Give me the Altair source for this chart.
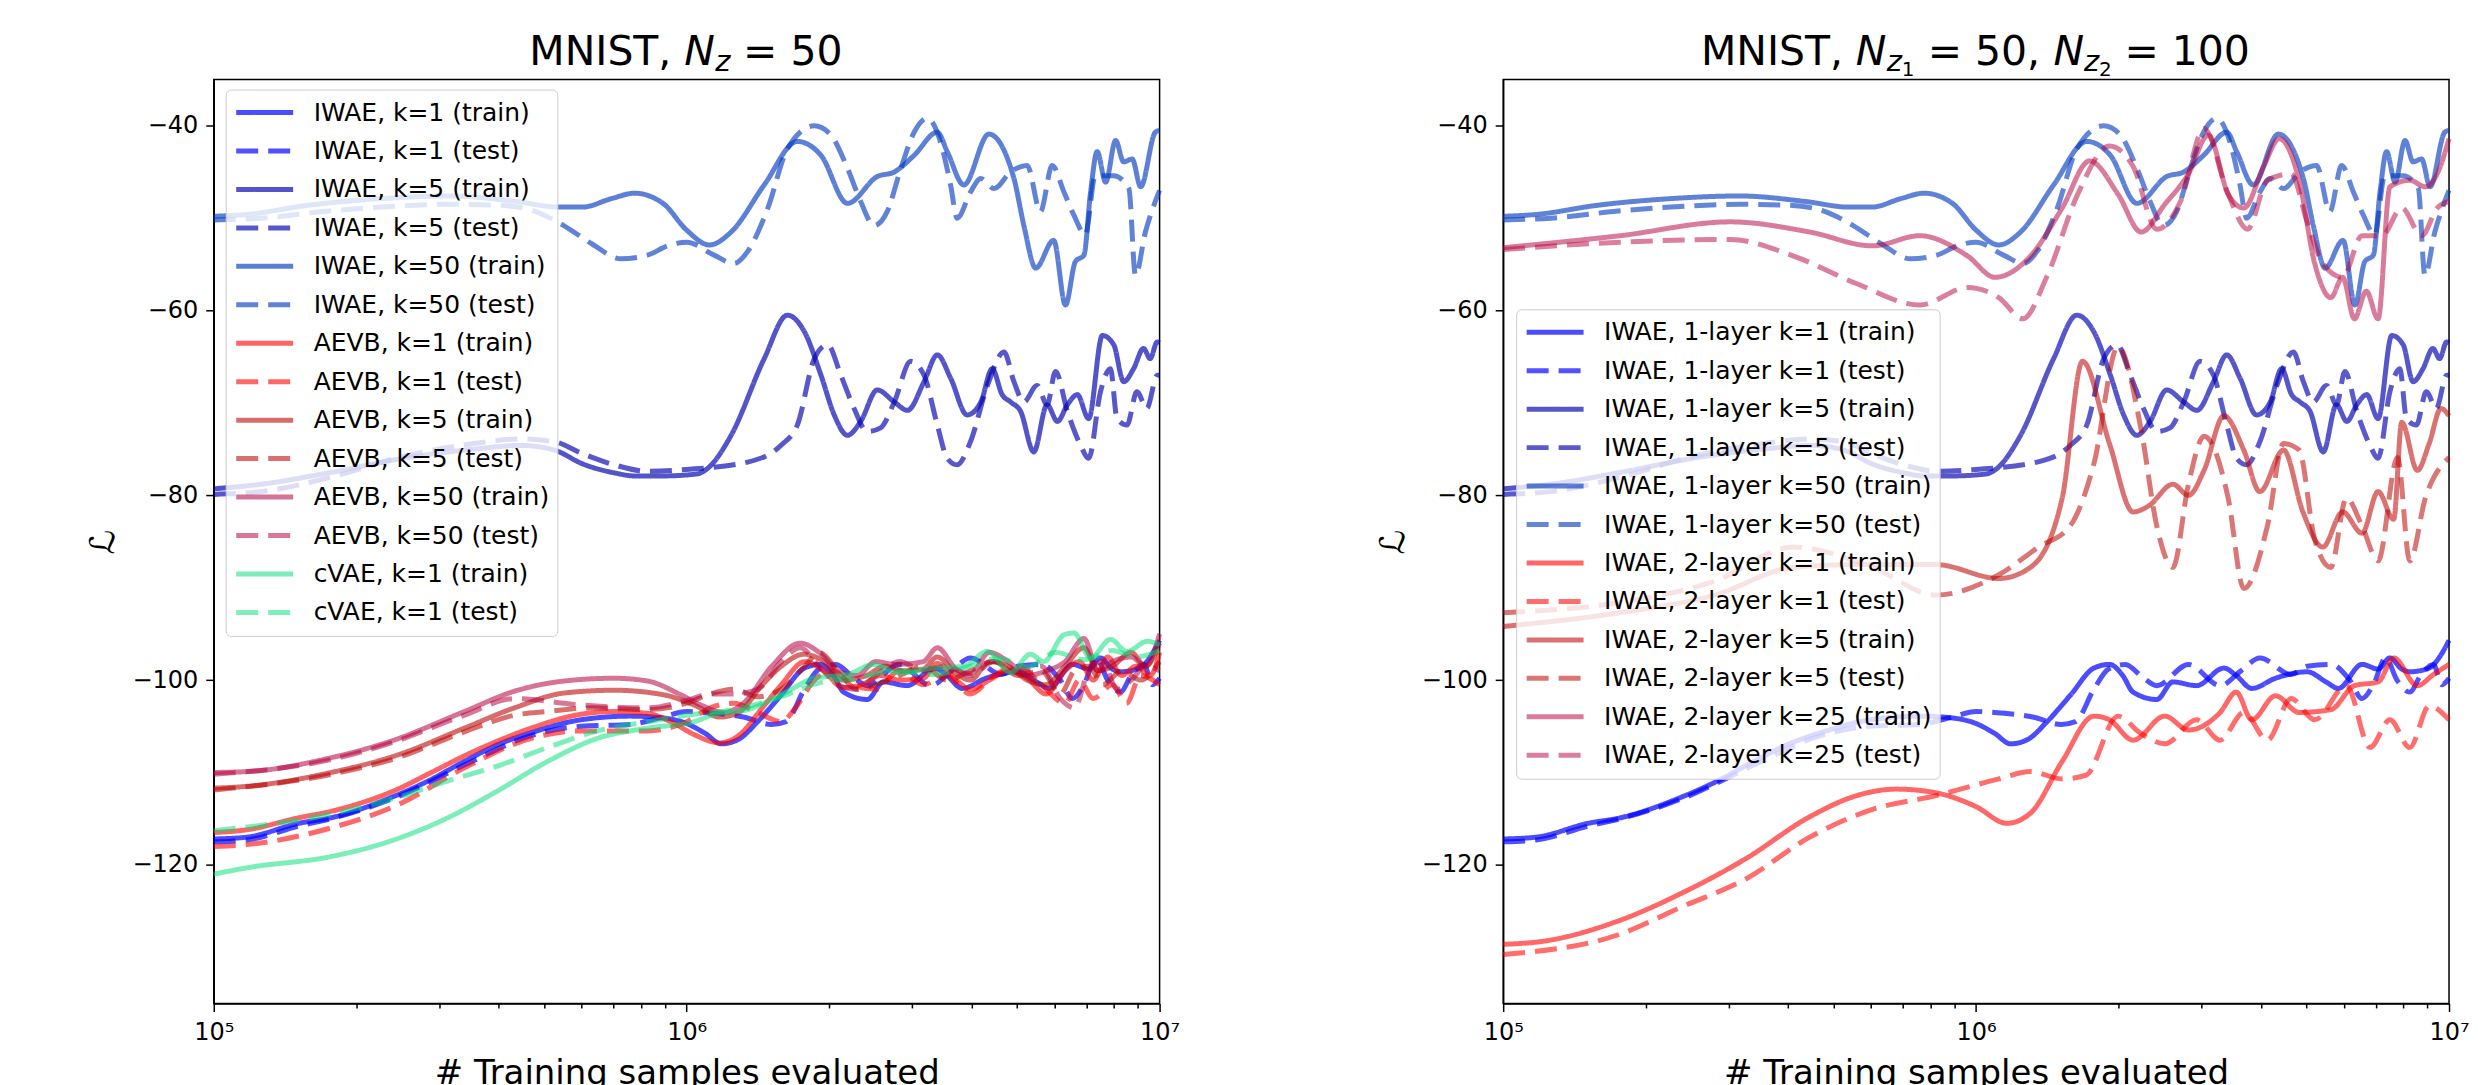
import altair as alt
import pandas as pd

FONT = "DejaVu Sans"

X_TICKS = [1e5, 2e5, 3e5, 4e5, 5e5, 6e5, 7e5, 8e5, 9e5,
           1e6, 2e6, 3e6, 4e6, 5e6, 6e6, 7e6, 8e6, 9e6, 1e7]
Y_TICKS = [-120, -100, -80, -60, -40]

# (log10 of training samples, ELBO value)
IWAE_K1_TRAIN = [(5.00, -117.2), (5.07, -117.0), (5.18, -115.5), (5.248, -114.9), (5.38, -112.6), (5.45, -111.0),
                 (5.53, -108.8), (5.60, -107.0), (5.671, -105.7), (5.776, -104.3), (5.88, -103.9), (5.95, -104.1),
                 (6.00, -104.7), (6.04, -105.8), (6.073, -106.9), (6.11, -106.4), (6.15, -104.5), (6.20, -101.6),
                 (6.249, -98.7), (6.282, -98.3), (6.31, -99.5), (6.332, -101.3), (6.382, -102.1), (6.416, -100.2),
                 (6.466, -100.6), (6.524, -98.7), (6.55, -99.5), (6.583, -100.9), (6.633, -99.8), (6.70, -99.1),
                 (6.74, -100.2), (6.766, -100.9), (6.816, -98.3), (6.85, -98.8), (6.875, -97.6), (6.90, -98.8),
                 (6.917, -99.1), (6.958, -98.7), (6.98, -97.5), (7.0, -95.7)]
IWAE_K1_TEST = [(5.00, -117.5), (5.07, -117.3), (5.18, -115.8), (5.248, -115.0), (5.38, -112.8), (5.53, -109.2),
                (5.671, -106.0), (5.776, -105.0), (5.88, -104.8), (5.95, -104.0), (6.00, -103.4), (6.06, -103.6),
                (6.12, -104.0), (6.18, -104.8), (6.21, -104.5), (6.249, -101.0), (6.28, -98.8), (6.316, -98.3),
                (6.35, -99.6), (6.382, -100.6), (6.449, -98.3), (6.516, -100.6), (6.56, -99.0), (6.60, -97.6),
                (6.666, -99.4), (6.70, -98.5), (6.75, -98.3), (6.79, -100.0), (6.816, -102.0), (6.84, -100.5),
                (6.866, -97.6), (6.89, -100.0), (6.917, -101.3), (6.94, -99.5), (6.967, -98.3), (6.985, -100.5),
                (7.0, -99.8)]
IWAE_K5_TRAIN = [(5.00, -79.3), (5.10, -78.8), (5.25, -77.5), (5.40, -76.0), (5.55, -75.0), (5.65, -74.6),
                 (5.72, -75.1), (5.78, -76.6), (5.85, -77.6), (5.889, -77.9), (5.95, -77.9), (6.02, -77.7),
                 (6.044, -77.1), (6.094, -73.5), (6.164, -65.2), (6.213, -60.5), (6.249, -62.3), (6.284, -67.0),
                 (6.312, -71.3), (6.34, -73.5), (6.368, -72.0), (6.403, -68.6), (6.439, -69.9), (6.467, -70.8),
                 (6.502, -67.7), (6.53, -64.8), (6.558, -67.3), (6.593, -71.3), (6.622, -69.9), (6.646, -66.3),
                 (6.667, -69.1), (6.685, -69.9), (6.706, -70.9), (6.734, -75.3), (6.762, -70.2), (6.784, -72.0),
                 (6.805, -70.2), (6.826, -69.1), (6.85, -71.7), (6.879, -62.7), (6.903, -63.7), (6.924, -67.7),
                 (6.945, -66.3), (6.966, -64.1), (6.98, -65.2), (6.995, -63.4), (7.0, -63.5)]
IWAE_K5_TEST = [(5.00, -79.9), (5.10, -79.6), (5.25, -78.0), (5.40, -75.8), (5.55, -74.4), (5.65, -73.9),
                (5.72, -74.2), (5.78, -75.5), (5.847, -76.7), (5.917, -77.4), (6.00, -77.2), (6.129, -76.4),
                (6.199, -74.6), (6.234, -72.4), (6.27, -65.2), (6.298, -63.7), (6.326, -67.0), (6.354, -70.6),
                (6.382, -73.1), (6.41, -72.7), (6.439, -69.9), (6.474, -65.5), (6.502, -67.0), (6.53, -72.4),
                (6.551, -76.0), (6.572, -76.7), (6.60, -74.2), (6.636, -68.1), (6.671, -64.5), (6.692, -67.7),
                (6.713, -69.9), (6.741, -68.1), (6.762, -70.2), (6.78, -66.6), (6.805, -70.9), (6.833, -74.6),
                (6.85, -76.0), (6.875, -68.8), (6.896, -66.3), (6.91, -71.7), (6.931, -72.4), (6.952, -68.8),
                (6.973, -70.6), (6.995, -67.0), (7.0, -67.0)]
IWAE_K50_TRAIN = [(5.00, -49.8), (5.07, -49.6), (5.20, -48.6), (5.35, -47.9), (5.50, -47.6), (5.64, -48.2),
                  (5.73, -48.8), (5.78, -48.8), (5.84, -47.9), (5.89, -47.3), (5.95, -48.4), (6.00, -51.3),
                  (6.048, -52.9), (6.094, -51.5), (6.164, -46.4), (6.234, -41.7), (6.284, -43.2), (6.34, -48.4),
                  (6.403, -45.5), (6.439, -45.0), (6.481, -43.2), (6.53, -40.7), (6.551, -42.8), (6.586, -46.4),
                  (6.639, -40.9), (6.692, -45.7), (6.713, -50.8), (6.738, -55.4), (6.776, -52.4), (6.801, -59.4),
                  (6.822, -54.7), (6.84, -54.0), (6.854, -47.2), (6.868, -42.8), (6.886, -46.1), (6.907, -41.6),
                  (6.924, -43.9), (6.942, -43.6), (6.96, -46.6), (6.991, -40.7), (7.0, -40.5)]
IWAE_K50_TEST = [(5.00, -50.2), (5.10, -50.0), (5.25, -49.2), (5.354, -48.8), (5.50, -48.5), (5.60, -48.6),
                 (5.67, -49.1), (5.74, -50.8), (5.80, -52.8), (5.861, -54.4), (5.917, -54.0), (5.96, -53.0),
                 (6.00, -52.6), (6.058, -54.0), (6.10, -54.9), (6.129, -53.6), (6.171, -49.0), (6.213, -42.5),
                 (6.27, -40.0), (6.305, -41.0), (6.34, -44.6), (6.368, -48.2), (6.396, -50.8), (6.424, -49.3),
                 (6.453, -44.6), (6.481, -40.7), (6.509, -39.2), (6.537, -41.8), (6.558, -46.4), (6.572, -50.0),
                 (6.60, -47.2), (6.622, -45.7), (6.65, -46.8), (6.685, -45.0), (6.72, -44.3), (6.748, -49.3),
                 (6.773, -44.3), (6.798, -47.2), (6.819, -49.7), (6.843, -51.8), (6.864, -45.4), (6.903, -45.4),
                 (6.935, -46.8), (6.949, -56.2), (6.97, -51.5), (6.988, -48.6), (7.0, -47.0)]

AEVB_K1_TRAIN = [(5.00, -116.5), (5.07, -116.2), (5.18, -114.9), (5.248, -114.2), (5.389, -111.8), (5.46, -110.0),
                 (5.53, -108.2), (5.60, -106.6), (5.671, -105.2), (5.776, -103.7), (5.847, -103.4), (5.917, -103.6),
                 (5.97, -104.6), (6.016, -105.9), (6.07, -106.8), (6.11, -106.0), (6.16, -103.0), (6.20, -100.5),
                 (6.25, -98.0), (6.29, -99.0), (6.33, -100.8), (6.37, -100.5), (6.41, -99.5), (6.45, -100.0),
                 (6.50, -99.8), (6.53, -98.2), (6.57, -100.0), (6.60, -101.0), (6.64, -100.0), (6.68, -99.0),
                 (6.72, -99.8), (6.76, -101.5), (6.80, -99.0), (6.83, -98.0), (6.86, -100.0), (6.89, -97.5),
                 (6.92, -99.5), (6.95, -98.5), (6.98, -99.5), (7.0, -97.0)]
AEVB_K1_TEST = [(5.00, -118.0), (5.07, -117.8), (5.248, -116.0), (5.389, -113.5), (5.53, -109.5), (5.671, -106.3),
                (5.776, -105.5), (5.917, -105.5), (6.00, -104.5), (6.05, -103.0), (6.10, -102.5), (6.15, -103.5),
                (6.20, -104.5), (6.23, -103.0), (6.27, -100.0), (6.31, -99.0), (6.35, -100.5), (6.40, -101.0),
                (6.45, -99.0), (6.50, -100.5), (6.55, -99.5), (6.60, -101.5), (6.65, -99.5), (6.70, -98.5),
                (6.75, -100.5), (6.80, -102.5), (6.83, -100.0), (6.86, -102.0), (6.90, -100.5), (6.93, -102.5),
                (6.96, -99.5), (7.0, -100.5)]
AEVB_K5_TRAIN = [(5.00, -111.7), (5.07, -111.5), (5.248, -110.0), (5.389, -108.1), (5.53, -105.2), (5.636, -103.0),
                 (5.741, -101.4), (5.847, -101.1), (5.952, -101.6), (6.016, -102.7), (6.07, -104.0), (6.11, -103.5),
                 (6.16, -100.5), (6.20, -98.5), (6.248, -97.2), (6.29, -98.0), (6.33, -100.0), (6.38, -99.5),
                 (6.42, -98.5), (6.46, -99.0), (6.50, -98.8), (6.53, -97.5), (6.57, -99.3), (6.60, -100.0),
                 (6.64, -98.0), (6.68, -98.5), (6.72, -100.0), (6.76, -100.5), (6.80, -98.5), (6.84, -96.5),
                 (6.87, -99.0), (6.90, -98.5), (6.94, -97.0), (6.97, -98.5), (7.0, -96.0)]
AEVB_K5_TEST = [(5.00, -111.9), (5.248, -110.2), (5.389, -108.4), (5.53, -105.6), (5.636, -103.8), (5.706, -103.4),
                (5.80, -103.0), (5.917, -103.2), (6.00, -102.5), (6.05, -101.5), (6.10, -101.0), (6.15, -101.8),
                (6.20, -101.0), (6.25, -98.5), (6.28, -97.0), (6.32, -99.0), (6.36, -101.0), (6.40, -100.5),
                (6.45, -99.5), (6.50, -98.5), (6.55, -100.0), (6.60, -99.0), (6.65, -98.0), (6.70, -99.5),
                (6.75, -99.0), (6.79, -101.5), (6.82, -99.0), (6.85, -98.5), (6.88, -100.5), (6.92, -99.0),
                (6.96, -100.0), (7.0, -98.0)]
AEVB_K50_TRAIN = [(5.00, -110.0), (5.072, -109.9), (5.248, -108.4), (5.375, -106.6), (5.53, -103.4), (5.636, -101.2),
                  (5.741, -100.1), (5.847, -99.8), (5.917, -100.1), (5.988, -101.6), (6.03, -102.7), (6.08, -103.5),
                  (6.12, -102.5), (6.18, -98.5), (6.24, -96.0), (6.28, -97.0), (6.32, -99.0), (6.36, -99.5),
                  (6.40, -98.0), (6.44, -98.3), (6.50, -98.0), (6.53, -96.5), (6.57, -98.8), (6.60, -99.3),
                  (6.64, -97.0), (6.68, -98.0), (6.72, -99.5), (6.76, -99.0), (6.80, -98.0), (6.84, -95.5),
                  (6.87, -99.0), (6.90, -98.0), (6.94, -97.5), (6.97, -98.5), (7.0, -95.0)]
AEVB_K50_TEST = [(5.00, -110.2), (5.248, -108.6), (5.375, -106.8), (5.53, -103.8), (5.636, -102.0), (5.776, -102.7),
                 (5.917, -103.0), (6.00, -102.2), (6.05, -101.5), (6.10, -101.5), (6.15, -101.0), (6.20, -98.0),
                 (6.24, -96.5), (6.28, -98.5), (6.32, -100.5), (6.36, -101.0), (6.40, -99.5), (6.45, -98.0),
                 (6.50, -99.0), (6.55, -98.5), (6.60, -99.5), (6.65, -98.0), (6.70, -99.0), (6.75, -98.5),
                 (6.79, -102.0), (6.82, -103.0), (6.85, -99.0), (6.88, -98.0), (6.91, -101.0), (6.94, -100.0),
                 (6.97, -98.5), (7.0, -99.0)]
CVAE_K1_TRAIN = [(5.00, -121.0), (5.072, -120.3), (5.248, -119.1), (5.375, -117.4), (5.495, -114.9), (5.60, -112.0),
                 (5.706, -108.8), (5.812, -106.3), (5.917, -105.2), (6.016, -104.5), (6.058, -103.7), (6.129, -103.2),
                 (6.20, -101.6), (6.27, -99.8), (6.34, -99.4), (6.396, -98.3), (6.446, -99.2), (6.523, -98.7),
                 (6.586, -98.5), (6.636, -96.9), (6.685, -99.2), (6.727, -97.2), (6.755, -98.0), (6.798, -95.1),
                 (6.819, -94.9), (6.854, -97.6), (6.896, -95.6), (6.931, -96.9), (6.974, -95.8), (7.0, -96.2)]
CVAE_K1_TEST = [(5.00, -116.3), (5.248, -114.5), (5.389, -112.7), (5.495, -110.9), (5.60, -109.3), (5.706, -107.3),
                (5.812, -105.5), (5.917, -104.5), (6.016, -103.7), (6.10, -103.2), (6.20, -101.8), (6.28, -100.3),
                (6.36, -99.8), (6.44, -99.0), (6.52, -99.4), (6.60, -98.5), (6.66, -97.6), (6.72, -98.6),
                (6.78, -97.0), (6.84, -97.8), (6.90, -96.8), (6.95, -97.5), (7.0, -96.8)]

TWO_K1_TRAIN = [(5.00, -128.6), (5.08, -128.3), (5.247, -126.0), (5.38, -123.0), (5.514, -119.3), (5.648, -114.8),
                (5.748, -112.5), (5.831, -111.8), (5.915, -112.2), (6.0, -113.7), (6.065, -115.5), (6.115, -114.4),
                (6.182, -108.8), (6.249, -103.9), (6.282, -104.3), (6.332, -106.5), (6.399, -103.9), (6.449, -105.4),
                (6.516, -103.5), (6.55, -101.3), (6.583, -104.3), (6.633, -101.7), (6.683, -103.5), (6.75, -103.2),
                (6.80, -100.6), (6.85, -100.2), (6.883, -97.6), (6.933, -100.6), (6.967, -99.4), (7.0, -98.3)]
TWO_K1_TEST = [(5.00, -129.7), (5.247, -127.5), (5.38, -124.5), (5.514, -121.5), (5.648, -117.0), (5.781, -114.0),
               (5.915, -112.5), (6.048, -110.7), (6.115, -109.9), (6.182, -110.7), (6.232, -110.3), (6.30, -103.9),
               (6.349, -105.8), (6.399, -106.9), (6.466, -104.3), (6.516, -106.5), (6.566, -103.5), (6.616, -106.5),
               (6.666, -102.0), (6.716, -104.3), (6.783, -100.6), (6.833, -107.3), (6.875, -104.3), (6.917, -107.3),
               (6.958, -102.8), (7.0, -104.3)]
TWO_K5_TRAIN = [(5.00, -94.2), (5.247, -92.7), (5.447, -90.8), (5.614, -87.8), (5.748, -87.5), (5.915, -87.5),
                (6.048, -89.0), (6.115, -87.8), (6.182, -80.3), (6.225, -65.5), (6.282, -74.4), (6.332, -81.8),
                (6.366, -81.1), (6.416, -78.8), (6.449, -80.0), (6.482, -77.3), (6.524, -71.4), (6.566, -75.1),
                (6.60, -79.6), (6.65, -75.1), (6.691, -81.8), (6.733, -85.6), (6.775, -81.8), (6.816, -84.1),
                (6.85, -79.6), (6.883, -82.6), (6.90, -72.1), (6.933, -77.3), (6.958, -74.4), (6.983, -70.6),
                (7.0, -71.4)]
TWO_K5_TEST = [(5.00, -92.7), (5.247, -91.6), (5.447, -89.3), (5.614, -85.6), (5.781, -87.8), (5.915, -90.8),
               (6.048, -88.6), (6.132, -85.6), (6.199, -83.3), (6.249, -76.6), (6.30, -63.9), (6.349, -72.9),
               (6.382, -83.3), (6.416, -87.8), (6.449, -78.8), (6.482, -73.6), (6.533, -80.3), (6.566, -90.1),
               (6.616, -83.3), (6.65, -74.4), (6.683, -75.1), (6.716, -84.8), (6.75, -87.8), (6.783, -80.3),
               (6.816, -83.3), (6.85, -87.1), (6.891, -75.9), (6.917, -87.1), (6.95, -80.3), (7.0, -75.9)]
TWO_K25_TRAIN = [(5.00, -53.2), (5.247, -51.9), (5.48, -50.4), (5.648, -51.5), (5.781, -53.0), (5.881, -51.9),
                 (5.982, -54.1), (6.04, -56.4), (6.115, -54.1), (6.182, -48.9), (6.24, -43.8), (6.30, -47.4),
                 (6.349, -51.5), (6.399, -48.5), (6.449, -45.2), (6.491, -41.0), (6.533, -47.4), (6.566, -48.9),
                 (6.608, -44.4), (6.641, -41.4), (6.683, -45.9), (6.716, -54.9), (6.75, -58.6), (6.775, -56.4),
                 (6.80, -60.9), (6.825, -57.9), (6.85, -60.9), (6.875, -46.6), (6.917, -45.9), (6.95, -46.6),
                 (6.975, -45.2), (7.0, -41.4)]
TWO_K25_TEST = [(5.00, -53.4), (5.247, -52.6), (5.48, -52.3), (5.614, -54.1), (5.748, -57.1), (5.881, -59.4),
                (5.982, -57.5), (6.048, -58.6), (6.099, -60.9), (6.149, -56.4), (6.215, -47.4), (6.282, -42.2),
                (6.332, -44.4), (6.382, -51.2), (6.432, -48.2), (6.482, -40.3), (6.533, -47.4), (6.574, -51.2),
                (6.616, -45.9), (6.666, -45.2), (6.70, -50.4), (6.733, -54.9), (6.775, -56.4), (6.816, -51.9),
                (6.858, -51.9), (6.90, -48.9), (6.942, -51.9), (6.975, -48.9), (7.0, -48.2)]

C_IWAE1, C_IWAE5, C_IWAE50 = "#0000ff", "#0000b0", "#0038bf"
C_RED1, C_RED5, C_RED50 = "#ff0000", "#bc0000", "#b6003d"
C_CVAE = "#00de77"

LEFT_SERIES = [
    ("IWAE, k=1 (train)", IWAE_K1_TRAIN, C_IWAE1, "train"),
    ("IWAE, k=1 (test)", IWAE_K1_TEST, C_IWAE1, "test"),
    ("IWAE, k=5 (train)", IWAE_K5_TRAIN, C_IWAE5, "train"),
    ("IWAE, k=5 (test)", IWAE_K5_TEST, C_IWAE5, "test"),
    ("IWAE, k=50 (train)", IWAE_K50_TRAIN, C_IWAE50, "train"),
    ("IWAE, k=50 (test)", IWAE_K50_TEST, C_IWAE50, "test"),
    ("AEVB, k=1 (train)", AEVB_K1_TRAIN, C_RED1, "train"),
    ("AEVB, k=1 (test)", AEVB_K1_TEST, C_RED1, "test"),
    ("AEVB, k=5 (train)", AEVB_K5_TRAIN, C_RED5, "train"),
    ("AEVB, k=5 (test)", AEVB_K5_TEST, C_RED5, "test"),
    ("AEVB, k=50 (train)", AEVB_K50_TRAIN, C_RED50, "train"),
    ("AEVB, k=50 (test)", AEVB_K50_TEST, C_RED50, "test"),
    ("cVAE, k=1 (train)", CVAE_K1_TRAIN, C_CVAE, "train"),
    ("cVAE, k=1 (test)", CVAE_K1_TEST, C_CVAE, "test"),
]
RIGHT_SERIES = [
    ("IWAE, 1-layer k=1 (train)", IWAE_K1_TRAIN, C_IWAE1, "train"),
    ("IWAE, 1-layer k=1 (test)", IWAE_K1_TEST, C_IWAE1, "test"),
    ("IWAE, 1-layer k=5 (train)", IWAE_K5_TRAIN, C_IWAE5, "train"),
    ("IWAE, 1-layer k=5 (test)", IWAE_K5_TEST, C_IWAE5, "test"),
    ("IWAE, 1-layer k=50 (train)", IWAE_K50_TRAIN, C_IWAE50, "train"),
    ("IWAE, 1-layer k=50 (test)", IWAE_K50_TEST, C_IWAE50, "test"),
    ("IWAE, 2-layer k=1 (train)", TWO_K1_TRAIN, C_RED1, "train"),
    ("IWAE, 2-layer k=1 (test)", TWO_K1_TEST, C_RED1, "test"),
    ("IWAE, 2-layer k=5 (train)", TWO_K5_TRAIN, C_RED5, "train"),
    ("IWAE, 2-layer k=5 (test)", TWO_K5_TEST, C_RED5, "test"),
    ("IWAE, 2-layer k=25 (train)", TWO_K25_TRAIN, C_RED50, "train"),
    ("IWAE, 2-layer k=25 (test)", TWO_K25_TEST, C_RED50, "test"),
]

# title pieces: (text, x, y, size, style) relative to plot origin
LEFT_TITLE = [("MNIST,", 316, -15, 41, "normal"), ("N", 471, -15, 41, "italic"),
              ("z", 502, -9, 29, "italic"), ("= 50", 530, -15, 41, "normal")]
RIGHT_TITLE = [("MNIST,", 198, -15, 41, "normal"), ("N", 353, -15, 41, "italic"),
               ("z", 384, -9, 29, "italic"), ("1", 399, -4, 20, "normal"),
               ("= 50,", 425, -15, 41, "normal"), ("N", 551, -15, 41, "italic"),
               ("z", 581.5, -9, 29, "italic"), ("2", 596.5, -4, 20, "normal"),
               ("= 100", 622, -15, 41, "normal")]

W, H = 947, 925

X_SCALE = alt.Scale(type="log", domain=[1e5, 1e7], nice=False)
Y_SCALE = alt.Scale(domain=[-135, -35], nice=False, zero=False)

MAJOR_TEST = "datum.value == 100000 || datum.value == 1000000 || datum.value == 10000000"
X_AXIS = alt.Axis(
    values=X_TICKS,
    labelExpr="datum.value == 100000 ? '10⁵' : datum.value == 1000000 ? '10⁶' : datum.value == 10000000 ? '10⁷' : ''",
    tickSize={"condition": {"test": MAJOR_TEST, "value": 8}, "value": 4.5},
    labelFlush=False, labelOverlap=False, grid=False,
    labelFontSize=24, labelPadding=9, titleFontSize=34, titlePadding=12,
    title="# Training samples evaluated",
)
Y_AXIS = alt.Axis(
    values=Y_TICKS, labelExpr="'−' + abs(datum.value)", tickSize=8, grid=False,
    labelFontSize=24, labelPadding=8, titleFontSize=34, titlePadding=11, title="ℒ",
)


def make_panel(series, legend_x, legend_y, title_parts):
    labels = [s[0] for s in series]
    colors = [s[2] for s in series]
    dashes = [[1, 0] if s[3] == "train" else [22, 10] for s in series]
    opac = [0.7 if s[3] == "train" else 0.5 for s in series]
    leg = alt.Legend(
        title=None, orient="none", legendX=legend_x, legendY=legend_y,
        symbolType="stroke", symbolSize=3249, symbolStrokeWidth=5,
        clipHeight=30, rowPadding=8.5, labelFontSize=25, labelLimit=600,
        labelOffset=18, padding=8, fillColor="rgba(255,255,255,0.8)",
        strokeColor="#cccccc", cornerRadius=5, labelColor="black",
    )
    layers = []
    for lab, pts, col, kind in series:
        df = pd.DataFrame({
            "samples": [10 ** p[0] for p in pts],
            "elbo": [p[1] for p in pts],
            "series": [lab] * len(pts),
        })
        layers.append(
            alt.Chart(df).mark_line(strokeWidth=5, interpolate="monotone").encode(
                x=alt.X("samples:Q", scale=X_SCALE, axis=X_AXIS),
                y=alt.Y("elbo:Q", scale=Y_SCALE, axis=Y_AXIS),
                color=alt.Color("series:N", scale=alt.Scale(domain=labels, range=colors), legend=leg),
                strokeDash=alt.StrokeDash("series:N", scale=alt.Scale(domain=labels, range=dashes), legend=leg),
                opacity=alt.Opacity("series:N", scale=alt.Scale(domain=labels, range=opac), legend=leg),
            )
        )
    for txt, x, y, size, style in title_parts:
        layers.append(
            alt.Chart(pd.DataFrame({"t": [txt]})).mark_text(
                align="left", baseline="alphabetic", font=FONT, fontSize=size,
                fontStyle=style, color="black",
            ).encode(x=alt.value(x), y=alt.value(y), text="t:N")
        )
    return alt.layer(*layers).properties(width=W, height=H)


left = make_panel(LEFT_SERIES, 12, 10, LEFT_TITLE)
right = make_panel(RIGHT_SERIES, 13, 230, RIGHT_TITLE)

chart = (
    alt.hconcat(left, right, spacing=195)
    .resolve_scale(color="independent", strokeDash="independent", opacity="independent")
    .resolve_legend(color="independent", strokeDash="independent", opacity="independent")
    .properties(padding={"left": 78, "top": 22, "right": 0, "bottom": 0})
    .configure(font=FONT)
    .configure_view(stroke="black", strokeWidth=1.5)
    .configure_axis(
        domainColor="black", domainWidth=1.5, tickColor="black", tickWidth=1.5,
        labelColor="black", titleColor="black", titleFontWeight="normal",
        labelFont=FONT, titleFont=FONT,
    )
    .configure_legend(labelFont=FONT)
)

chart.save("out.html", embed_options={"renderer": "svg", "actions": False})
